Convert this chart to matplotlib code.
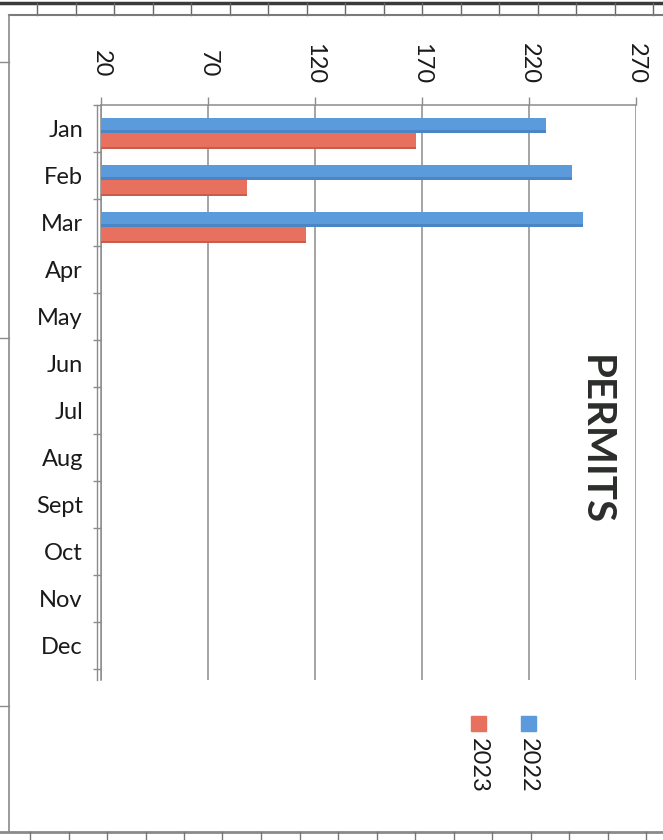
import matplotlib
matplotlib.use('Agg')
import matplotlib.pyplot as plt
from matplotlib.lines import Line2D
from matplotlib.patches import Rectangle
import numpy as np

# ---- data ----
months = ['Jan', 'Feb', 'Mar', 'Apr', 'May', 'Jun', 'Jul', 'Aug', 'Sept', 'Oct', 'Nov', 'Dec']
series_names = ['2022', '2023']
permits_2022 = [228, 240, 245]
permits_2023 = [167, 88, 116]
x_ticks = [20, 70, 120, 170, 220, 270]
chart_title = 'PERMITS'

plt.rcParams['font.family'] = ['Lato', 'DejaVu Sans']

W, H = 663, 840
fig = plt.figure(figsize=(W / 100, H / 100), dpi=100)
fig.patch.set_facecolor('white')


def fx(x):
    return x / W


def fy(y):
    return 1 - y / H


# ---- page/frame decorations (scanned sheet look) ----
def fline(xs, ys, **kw):
    fig.add_artist(Line2D([fx(v) for v in xs], [fy(v) for v in ys], **kw))


fline([0, W], [3, 3], color='#3a3a3a', lw=2.5)
for k in range(17):
    xx = 37 + 38.5 * k
    fline([xx, xx], [3, 15], color='#666666', lw=1)
fline([9, W], [15, 15], color='#7a7a7a', lw=1.5)
fline([9, 9], [15, 832], color='#8a8a8a', lw=1.2)
for yy in (62, 338, 706):
    fline([0, 9], [yy, yy], color='#8a8a8a', lw=1)
fline([0, W], [832, 832], color='#8a8a8a', lw=2)
for k in range(17):
    xx = 30 + 38.5 * k
    fline([xx, xx], [832, 840], color='#777777', lw=1)

# ---- axes ----
ax_left, ax_right, ax_top, ax_bot = 101, 636, 105, 680
ax = fig.add_axes([fx(ax_left), fy(ax_bot), (ax_right - ax_left) / W, (ax_bot - ax_top) / H])
ax.set_facecolor('none')

band_px = 47.0
ax.set_xlim(20, 270)
ax.set_ylim(11.5 + (ax_bot - (ax_top + 12 * band_px)) / band_px, -0.5)

blue = '#5b9bdb'
blue_dark = '#3f78b8'
red = '#e8705e'
red_dark = '#b5503f'

ypos = np.arange(len(permits_2022))
h_2022, h_2023 = 0.31, 0.35
off_2022 = -0.06
off_2023 = 0.27
ax.barh(ypos + off_2022, permits_2022, height=h_2022, color=blue, zorder=3, label=series_names[0])
ax.barh(ypos + off_2022 + h_2022 / 2 - 0.03, permits_2022, height=0.06, color=blue_dark, alpha=0.6, zorder=3)
ax.barh(ypos + off_2023, permits_2023, height=h_2023, color=red, zorder=3, label=series_names[1])
ax.barh(ypos + off_2023 + h_2023 / 2 - 0.03, permits_2023, height=0.06, color=red_dark, alpha=0.6, zorder=3)

grid_c = '#8c8c8c'
fs = 17
ax.set_xticks(x_ticks)
ax.set_xticklabels([str(v) for v in x_ticks])
ax.xaxis.grid(True, color=grid_c, lw=1.1, zorder=1)
ax.set_axisbelow(True)
ax.tick_params(axis='x', top=True, bottom=False, labeltop=True, labelbottom=False,
               length=6, width=1, color=grid_c, labelrotation=-90, pad=24, labelsize=fs,
               labelcolor='#1a1a1a')
for lbl in ax.get_xticklabels():
    lbl.set_va('center')
    lbl.set_ha('center')

ax.set_yticks(np.arange(12))
ax.set_yticklabels(months)
ax.set_yticks(np.arange(-0.5, 12.0, 1.0), minor=True)
ax.tick_params(axis='y', which='major', length=0, pad=13, labelsize=fs, labelcolor='#1a1a1a')
ax.tick_params(axis='y', which='minor', length=6, width=1, color=grid_c)

for s in ('right', 'bottom'):
    ax.spines[s].set_visible(False)
for s in ('top', 'left'):
    ax.spines[s].set_color(grid_c)
    ax.spines[s].set_linewidth(1.1)
ax.axvline(20 - 4 / 2.14, color=grid_c, lw=1.0, clip_on=False, zorder=2)

# ---- title ----
fig.text(fx(595), fy(440), chart_title, rotation=-90, fontsize=29, fontweight='bold',
         ha='center', va='center', color='#2a2d2a')

# ---- legend (rotated, as in reference) ----
leg_items = [(series_names[0], blue, 528), (series_names[1], red, 478)]
for name, col, xc in leg_items:
    fig.add_artist(Rectangle((fx(xc - 7.5), fy(731)), 15 / W, 15 / H, color=col,
                             transform=fig.transFigure))
    fig.text(fx(xc), fy(738), name, rotation=-90, fontsize=fs, ha='center', va='top',
             color='#1a1a1a')

fig.savefig('out.png', dpi=100)
